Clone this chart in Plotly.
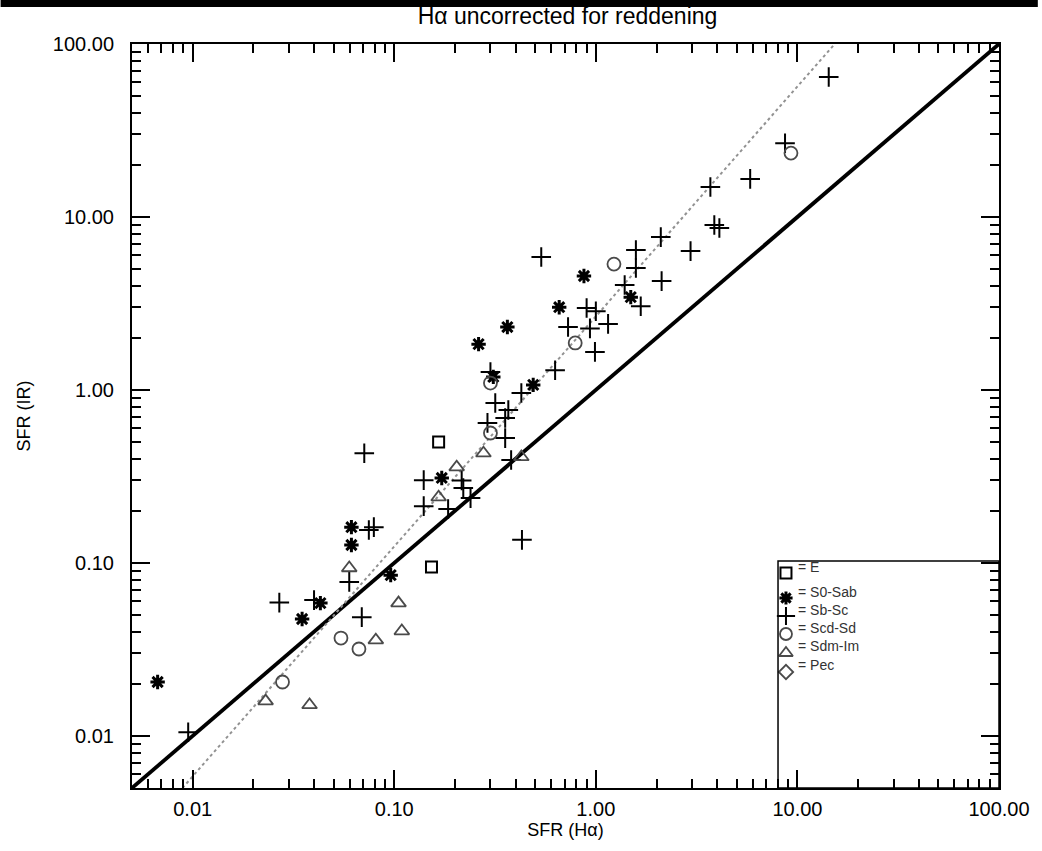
import math
import plotly.graph_objects as go

# SFR(Halpha) vs SFR(IR) by morphological class
e_x = [0.166, 0.153]
e_y = [0.50, 0.0946]

s0sab_x = [0.0067, 0.0349, 0.043, 0.096, 0.0613, 0.0613, 0.172, 0.31, 0.262,
           0.364, 0.489, 0.658, 0.873, 1.49]
s0sab_y = [0.0205, 0.0474, 0.0586, 0.085, 0.127, 0.161, 0.31, 1.19, 1.84,
           2.31, 1.07, 3.01, 4.56, 3.44]

sbsc_x = [0.0095, 0.0269, 0.040, 0.069, 0.0598, 0.0748, 0.0792, 0.071, 0.14,
          0.14, 0.185, 0.216, 0.22, 0.239, 0.29, 0.30, 0.317, 0.355, 0.368,
          0.355, 0.38, 0.43, 0.427, 0.536, 0.628, 0.728, 0.90, 1.0, 0.935,
          1.15, 0.99, 1.39, 1.58, 1.58, 1.67, 2.10, 2.12, 2.95, 3.70, 3.87,
          4.10, 5.83, 8.68, 14.3]
sbsc_y = [0.0105, 0.059, 0.061, 0.0486, 0.0777, 0.155, 0.161, 0.431, 0.301,
          0.213, 0.205, 0.30, 0.271, 0.237, 0.645, 1.27, 0.84, 0.689, 0.766,
          0.527, 0.394, 0.136, 0.96, 5.87, 1.30, 2.31, 2.98, 2.85, 2.27,
          2.41, 1.66, 4.04, 6.44, 5.07, 3.05, 7.65, 4.26, 6.35, 14.9, 8.98,
          8.63, 16.6, 26.7, 64.4]

scdsd_x = [0.0279, 0.0544, 0.0668, 0.30, 0.30, 0.79, 1.23, 9.29]
scdsd_y = [0.0205, 0.0368, 0.0318, 0.564, 1.096, 1.87, 5.34, 23.4]

sdmim_x = [0.023, 0.038, 0.081, 0.109, 0.105, 0.0598, 0.166, 0.204, 0.277, 0.427]
sdmim_y = [0.0159, 0.0151, 0.0358, 0.0404, 0.0586, 0.0935, 0.24, 0.358, 0.431, 0.41]

pec_x = []
pec_y = []

# one-to-one relation and the fitted power law
unity_x = [0.005, 100.0]
unity_y = [0.005, 100.0]
fit_x = [0.0089, 15.3]
fit_y = [0.005, 100.0]

tick_vals = [0.01, 0.1, 1, 10, 100]
tick_text = ["0.01", "0.10", "1.00", "10.00", "100.00"]

legend_labels = ["= E", "= S0-Sab", "= Sb-Sc", "= Scd-Sd", "= Sdm-Im", "= Pec"]

W, H = 1042, 851
L, R, T, B = 132, 1003, 44, 788

FONT = "Liberation Sans, Arial, Helvetica, sans-serif"

minor_vals = [m * 10 ** e for e in range(-3, 2) for m in range(2, 10)
              if 0.005 <= m * 10 ** e <= 100]

fig = go.Figure()

fig.add_trace(go.Scatter(x=unity_x, y=unity_y, mode="lines",
                         line=dict(color="black", width=3.8), hoverinfo="skip"))
fig.add_trace(go.Scatter(x=fit_x, y=fit_y, mode="lines",
                         line=dict(color="#929292", width=2, dash="dot"),
                         hoverinfo="skip"))

GRAY = "#4a4a4a"
styles = {
    "E": dict(symbol="square-open", size=11, line=dict(width=2, color="black"), color="black"),
    "S0-Sab": dict(symbol="asterisk-open", size=12, line=dict(width=3, color="black"), color="black"),
    "Sb-Sc": dict(symbol="cross-thin-open", size=14, line=dict(width=2, color="black"), color="black"),
    "Scd-Sd": dict(symbol="circle-open", size=13, line=dict(width=1.8, color=GRAY), color=GRAY),
    "Sdm-Im": dict(symbol="triangle-up-open", size=13, line=dict(width=1.8, color=GRAY), color=GRAY),
    "Pec": dict(symbol="diamond-open", size=11, line=dict(width=1.8, color=GRAY), color=GRAY),
}
legend_sizes = {"E": 11, "S0-Sab": 11, "Sb-Sc": 13, "Scd-Sd": 12, "Sdm-Im": 12, "Pec": 11}

groups = [("E", e_x, e_y), ("S0-Sab", s0sab_x, s0sab_y), ("Sb-Sc", sbsc_x, sbsc_y),
          ("Scd-Sd", scdsd_x, scdsd_y), ("Sdm-Im", sdmim_x, sdmim_y), ("Pec", pec_x, pec_y)]

for name, xs, ys in groups:
    fig.add_trace(go.Scatter(x=xs, y=ys, mode="markers", name=name,
                             marker=styles[name]))

# legend drawn in pixel space on an overlay axis pair
leg_sym_x = 789
leg_sym_y = [573, 598, 616, 634, 653, 672]
leg_text_y = [567, 592, 610, 628, 646, 665]
leg_text_x = 799
for (name, _, _), sy, ty, lab in zip(groups, leg_sym_y, leg_text_y, legend_labels):
    m = dict(styles[name])
    m["size"] = legend_sizes[name]
    fig.add_trace(go.Scatter(x=[leg_sym_x], y=[sy], mode="markers", marker=m,
                             xaxis="x2", yaxis="y2", hoverinfo="skip"))
    fig.add_annotation(x=leg_text_x, y=ty, xref="x2", yref="y2", text=lab,
                       showarrow=False, xanchor="left", yanchor="middle",
                       font=dict(family=FONT, size=14, color="#333333"))

fig.add_shape(type="rect", xref="x2", yref="y2", x0=781, x1=R, y0=561, y1=B,
              line=dict(color="black", width=1.5))

# dark strip across the top edge
fig.add_shape(type="rect", xref="paper", yref="paper",
              x0=-L / (R - L), x1=(W - L) / (R - L),
              y0=1 + (T - 7) / (B - T), y1=1 + T / (B - T),
              line=dict(width=0), fillcolor="black")

axis_common = dict(
    type="log", showgrid=False, zeroline=False,
    showline=True, linecolor="black", linewidth=2, mirror="ticks",
    ticks="inside", ticklen=18, tickwidth=1.5, tickcolor="black",
    tickmode="array", tickvals=tick_vals, ticktext=tick_text,
    tickfont=dict(family=FONT, size=20, color="black"),
    minor=dict(ticks="inside", ticklen=9, tickwidth=1.5, tickcolor="black",
               tickmode="array", tickvals=minor_vals, showgrid=False),
    range=[math.log10(0.005), 2],
)

fig.update_layout(
    width=W, height=H,
    margin=dict(l=L, r=W - R, t=T, b=H - B),
    paper_bgcolor="white", plot_bgcolor="white",
    showlegend=False,
    title=dict(text="Hα uncorrected for reddening", x=(L + R) / 2 / W, xanchor="center",
               y=1 - 16 / H, yanchor="middle", yref="container",
               font=dict(family="Liberation Sans Narrow, Arial Narrow, Liberation Sans", size=23, color="black")),
    xaxis=dict(**axis_common, ticklabelstandoff=2,
               title=dict(text="SFR (Hα)", standoff=4,
                          font=dict(family=FONT, size=18, color="black"))),
    yaxis=dict(**axis_common, ticklabelstandoff=12,
               title=dict(text="SFR (IR)", standoff=18,
                          font=dict(family=FONT, size=18, color="black"))),
    xaxis2=dict(overlaying="x", range=[L, R], visible=False, fixedrange=True),
    yaxis2=dict(overlaying="y", range=[B, T], visible=False, fixedrange=True),
)

fig.write_html("out.html")
